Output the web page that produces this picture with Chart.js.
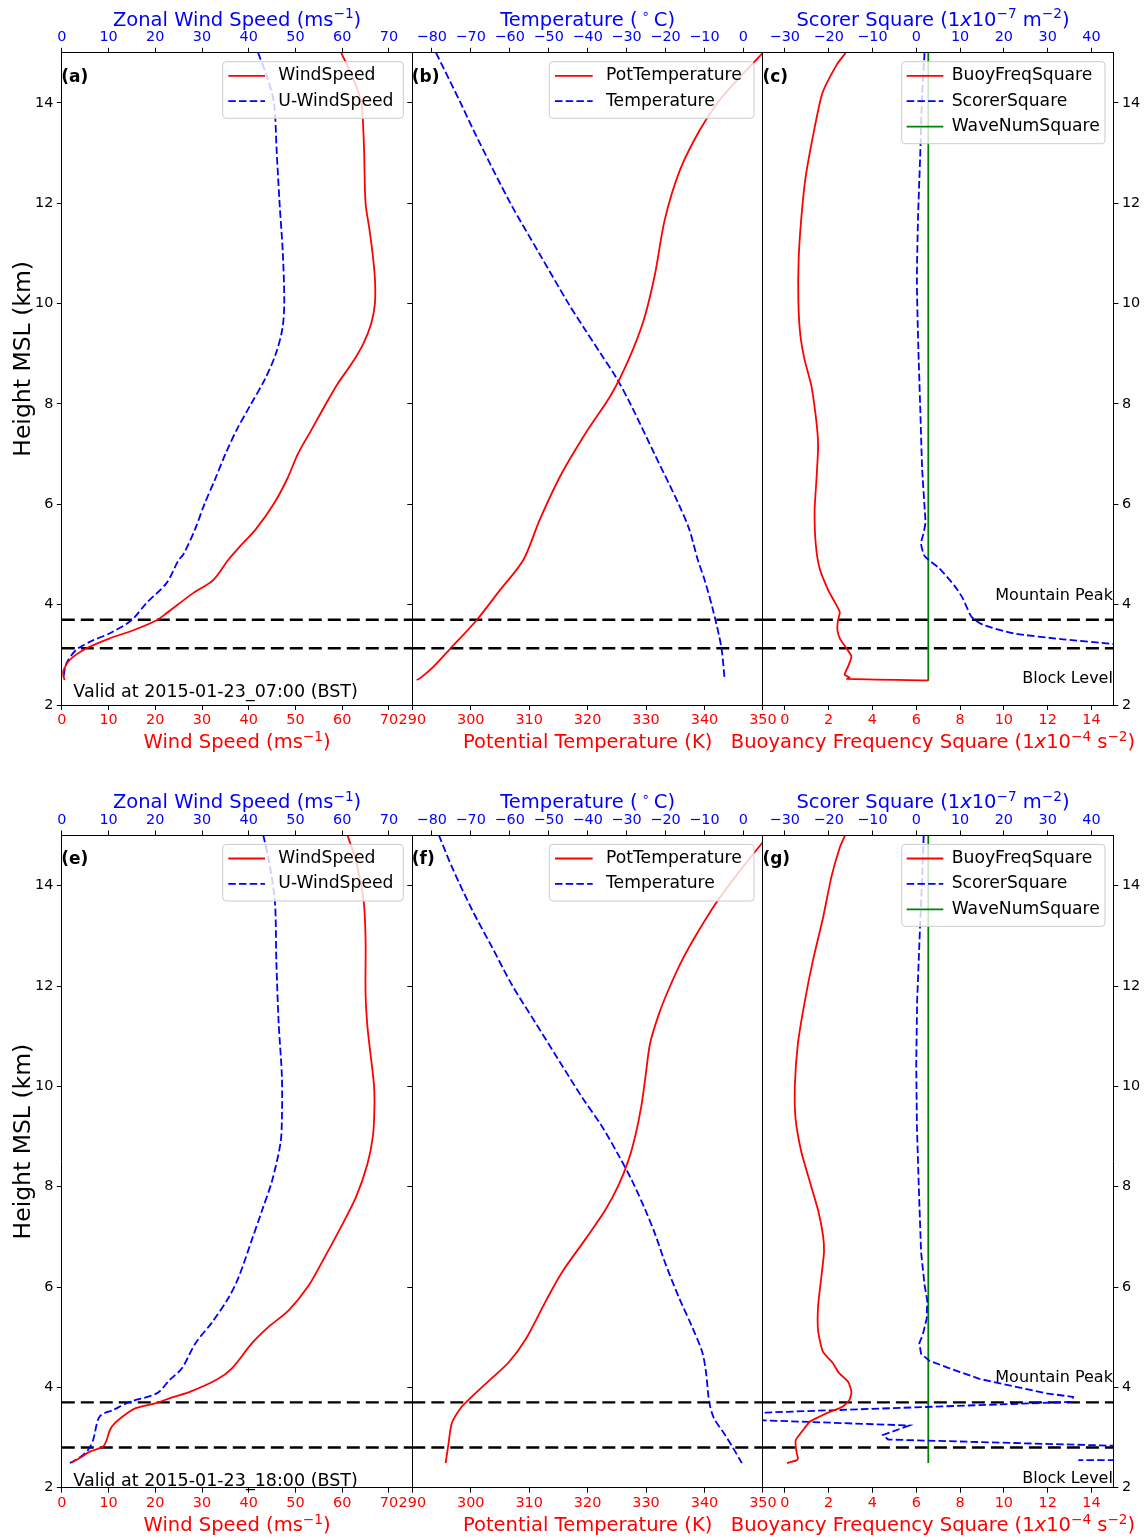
<!DOCTYPE html>
<html><head><meta charset="utf-8">
<script src="https://cdn.jsdelivr.net/npm/chart.js@4/dist/chart.umd.min.js"></script>
<style>
html,body{margin:0;padding:0;background:#fff;}
#wrap{position:relative;width:1148px;height:1538px;overflow:hidden;background:#fff;}
#wrap canvas{position:absolute;left:0;top:0;}
</style></head><body>
<div id="wrap">
<canvas id="pa" width="1148" height="1538"></canvas>
<canvas id="pb" width="1148" height="1538"></canvas>
<canvas id="pc" width="1148" height="1538"></canvas>
<canvas id="pe" width="1148" height="1538"></canvas>
<canvas id="pf" width="1148" height="1538"></canvas>
<canvas id="pg" width="1148" height="1538"></canvas>
</div>
<script>
// ---------------- DATA ----------------
const windTicks = [0,10,20,30,40,50,60,70];
const potTempTicks = [290,300,310,320,330,340,350];
const tempTicks = [-80,-70,-60,-50,-40,-30,-20,-10,0];
const buoyTicks = [0,2,4,6,8,10,12,14];
const scorerTicks = [-30,-20,-10,0,10,20,30,40];
const heightTicks = [2,4,6,8,10,12,14];

const validTimes = ['2015-01-23_07:00', '2015-01-23_18:00'];
const mountainPeak = [3.7, 3.7];
const blockLevel = [3.13, 2.8];
const waveNumSquare = [6.55, 6.55];
const waveNumBottom = [2.49, 2.49];

// (a) 07:00 wind
const a_windH = [15.0,14.5,14.0,13.5,13.0,12.0,11.5,11.0,10.5,10.0,9.6,9.2,8.8,8.4,8.0,7.5,7.0,6.5,6.0,5.5,5.2,4.89,4.49,4.23,3.83,3.69,3.49,3.33,3.13,2.9,2.7,2.6,2.5];
const a_windV = [59.8,62.3,64.1,64.5,64.7,65.0,65.8,66.5,67.0,67.0,66.2,64.5,62.0,59.0,56.5,53.5,50.5,48.2,45.3,41.5,38.5,35.6,32.4,28.1,22.4,20.3,15.3,10.3,5.3,1.7,0.4,0.3,0.6];
const a_uwindH = [15.0,14.5,14.0,13.0,12.0,11.0,10.0,9.5,9.0,8.5,8.0,7.5,7.0,6.5,6.0,5.5,5.0,4.89,4.43,4.03,3.69,3.43,3.29,3.10,2.83,2.53];
const a_uwindV = [42.0,44.0,45.4,46.0,46.6,47.3,47.6,47.2,45.8,43.5,40.5,37.5,35.0,32.8,30.5,28.5,26.0,25.0,22.4,18.1,14.9,10.3,6.7,3.1,1.0,0.3];
// (b) 07:00 potential temperature / temperature
const b_potH = [15.0,14.62,14.06,13.46,12.66,11.67,10.57,9.67,8.88,8.18,7.48,6.58,5.69,4.89,4.29,3.69,3.11,2.76,2.53,2.50];
const b_potV = [350,346.9,342.6,339.2,335.8,333.2,331.5,329.6,327.0,324.0,320.0,315.4,311.8,309.0,305.0,301.0,296.4,293.6,291.3,290.75];
const b_tempH = [15.0,14.0,13.33,12.0,11.0,10.0,9.5,9.0,8.52,8.0,7.0,6.0,5.5,4.89,4.5,3.89,3.16,2.5];
const b_tempV = [-78.9,-72.6,-68.5,-59.8,-52.4,-44.9,-40.8,-36.6,-32.6,-29.0,-22.8,-16.6,-13.9,-11.7,-10.0,-7.8,-5.7,-4.8];
// (c) 07:00 buoyancy / scorer
const c_buoyH = [15.0,14.77,14.19,13.35,12.52,11.69,10.86,10.03,9.37,8.87,8.37,7.54,7.13,6.46,5.88,5.22,4.72,4.30,4.05,3.85,3.69,3.50,3.33,3.13,2.97,2.77,2.60,2.55,2.52,2.49];
const c_buoyV = [2.78,2.38,1.71,1.29,0.95,0.75,0.63,0.62,0.71,0.91,1.21,1.47,1.52,1.44,1.36,1.41,1.59,1.97,2.28,2.51,2.43,2.40,2.51,2.81,3.04,2.89,2.73,2.96,2.84,6.57];
const c_scorerH = [15.0,14.19,12.94,11.69,10.45,9.2,7.96,6.71,5.88,5.63,5.40,5.22,4.97,4.72,4.38,4.13,3.76,3.60,3.43,3.31,3.22,3.10];
const c_scorerV = [1.9,1.35,0.9,0.4,0.15,0.45,0.9,1.35,1.95,2.1,1.6,1.1,1.9,5.3,8.7,10.6,12.6,15.2,22.1,33.5,44.9,70];
// (e) 18:00 wind
const e_windH = [15.01,14.51,13.68,12.93,11.85,11.19,10.61,10.03,9.61,9.03,8.45,7.78,7.12,6.62,6.04,5.54,5.21,4.88,4.38,4.15,3.91,3.80,3.69,3.59,3.48,3.30,3.15,2.95,2.82,2.72,2.60,2.50];
const e_windV = [61.1,62.9,64.6,65.0,65.0,65.4,66.1,66.8,66.9,66.6,65.4,62.9,59.3,56.4,52.9,48.6,44.3,40.7,36.4,33.1,27.4,23.6,20.3,16.0,13.9,11.5,10.3,9.6,8.85,6.0,4.0,2.07];
const e_uwindH = [15.01,14.51,13.68,12.52,11.27,10.19,9.36,8.87,8.12,7.54,6.95,6.21,5.79,5.29,4.88,4.38,4.15,3.88,3.71,3.55,3.42,2.95,2.75,2.60,2.49];
const e_uwindV = [43.1,44.3,45.6,45.9,46.4,47.1,47.1,46.8,45.0,42.9,40.7,37.9,35.7,32.1,28.6,25.7,23.1,20.3,14.6,11.0,8.1,6.7,5.6,3.8,1.7];
// (f) 18:00 potential temperature / temperature
const f_potH = [15.0,14.84,14.18,13.64,13.1,12.52,11.94,11.44,10.86,10.19,9.61,9.03,8.53,8.03,7.53,6.95,6.29,5.71,4.96,4.50,4.13,3.76,3.59,3.30,2.88,2.49];
const f_potV = [351.0,349.8,345.3,341.9,339.0,336.2,333.9,332.2,330.7,329.9,329.2,328.2,327.0,325.3,323.0,319.6,315.6,312.8,309.4,306.5,303.1,299.7,298.3,296.8,296.2,295.7];
const f_tempH = [15.01,14.35,13.51,12.77,12.02,11.27,10.52,9.78,9.2,8.62,8.12,7.54,7.04,6.46,5.80,5.21,4.71,4.30,3.72,3.39,3.05,2.81,2.49];
const f_tempV = [-78.2,-74.7,-69.6,-64.5,-59.4,-53.4,-47.4,-41.4,-36.3,-32.0,-28.6,-25.2,-22.6,-20.0,-16.6,-13.2,-10.6,-9.6,-8.8,-7.6,-4.7,-2.8,-0.4];
// (g) 18:00 buoyancy / scorer
const g_buoyH = [15.0,14.76,14.18,13.35,12.52,11.69,10.86,10.03,9.36,8.70,8.12,7.53,7.04,6.70,6.21,5.62,5.13,4.71,4.48,4.30,4.11,3.91,3.75,3.62,3.51,3.42,3.32,3.13,2.95,2.82,2.68,2.59,2.55,2.49];
const g_buoyV = [2.75,2.51,2.13,1.74,1.29,0.91,0.60,0.46,0.49,0.75,1.13,1.52,1.74,1.79,1.67,1.52,1.52,1.74,2.2,2.45,2.89,3.04,2.95,2.65,2.05,1.6,1.15,0.8,0.5,0.5,0.55,0.6,0.55,0.1];
const g_scorerH = [15.0,14.18,12.93,11.69,10.44,9.2,7.95,6.7,6.04,5.74,5.38,5.05,4.88,4.67,4.53,4.38,4.17,4.01,3.88,3.81,3.71,3.42,3.24,3.05,2.96,2.80,2.58,2.55];
const g_scorerV = [1.7,1.35,0.75,0.2,0.0,0.15,0.6,1.1,1.9,2.5,2.4,1.5,0.7,1.1,3.0,7.6,14.4,22.8,29.7,35.8,35.4,-60,-1.6,-7.6,-6.4,60,300,37];

// ---------------- LAYOUT / STYLE ----------------
const FONT = "'DejaVu Sans'";
Chart.defaults.font.family = "'DejaVu Sans', sans-serif";
const W = 1148, H = 1538;
const WL = 50, WR = 30, HT = 45, HB = 45;
const colLeft = [61.8, 412.3, 762.9], colRight = [412.3, 762.9, 1113.4];
const rowTop = [52.8, 835.5], rowBottom = [705, 1487.7];
const RED = '#ff0000', BLUE = '#0000ff', GREEN = '#008000';
const windRange=[0,75], potTempRange=[290,350], tempRange=[-85,5], buoyRange=[-1,15], scorerRange=[-35,45], heightRange=[2,15];

const fmt = v => (v < 0 ? '\u2212' + Math.abs(v) : String(v));

function xScale(pos, range, ticks, color) {
  return {
    type:'linear', position:pos, min:range[0], max:range[1],
    afterBuildTicks: s => { s.ticks = ticks.map(v => ({value:v})); },
    afterFit: s => { s.height = pos === 'top' ? HT : HB; },
    ticks:{color, font:{size:14.4, family:FONT}, padding:2, autoSkip:false, maxRotation:0, minRotation:0, callback: v => fmt(v)},
    grid:{display:true, drawOnChartArea:false, drawTicks:true, tickLength:5, tickColor:'#000', tickWidth:1, color:'#000'},
    border:{display:true, color:'#000', width:1}
  };
}
function yScale(pos, showTicks, showLabels) {
  return {
    type:'linear', position:pos, min:heightRange[0], max:heightRange[1],
    afterBuildTicks: s => { s.ticks = heightTicks.map(v => ({value:v})); },
    afterFit: s => { s.width = pos === 'left' ? WL : WR; },
    ticks:{display:showLabels, color:'#000', font:{size:14.4, family:FONT}, padding:3.5, autoSkip:false, callback: v => fmt(v)},
    grid:{display:true, drawOnChartArea:false, drawTicks:showTicks, tickLength:5, tickColor:'#000', tickWidth:1, color:'#000'},
    border:{display:true, color:'#000', width:1}
  };
}
function series(hArr, vArr, axis, color, dash, tension) {
  return {
    data: hArr.map((h, i) => ({x: vArr[i], y: h})),
    xAxisID: axis, yAxisID: 'y', showLine: true, pointRadius: 0,
    borderColor: color, borderWidth: 1.8, borderDash: dash || [], tension: tension, fill: false
  };
}
function level(h, range) {
  return {
    data: [{x: range[0], y: h}, {x: range[1], y: h}],
    xAxisID: 'xb', yAxisID: 'y', showLine: true, pointRadius: 0,
    borderColor: '#000', borderWidth: 2.4, borderDash: [13, 6], tension: 0, fill: false
  };
}

function drawRich(ctx, parts, x, y, size, color, align) {
  const segs = []; let total = 0;
  for (const p of parts) {
    const s = p.sup ? size * 0.7 : size;
    const f = (p.it ? 'italic ' : '') + s + 'px ' + FONT;
    ctx.font = f;
    const w = ctx.measureText(p.t).width;
    segs.push({p, f, w}); total += w;
  }
  let cx = align === 'center' ? x - total / 2 : (align === 'right' ? x - total : x);
  ctx.fillStyle = color; ctx.textAlign = 'left'; ctx.textBaseline = 'alphabetic';
  for (const g of segs) {
    ctx.font = g.f;
    ctx.fillText(g.p.t, cx, y - (g.p.sup ? size * 0.38 : 0));
    cx += g.w;
  }
}
function roundRect(ctx, x, y, w, h, r) {
  ctx.beginPath();
  ctx.moveTo(x + r, y); ctx.lineTo(x + w - r, y); ctx.arcTo(x + w, y, x + w, y + r, r);
  ctx.lineTo(x + w, y + h - r); ctx.arcTo(x + w, y + h, x + w - r, y + h, r);
  ctx.lineTo(x + r, y + h); ctx.arcTo(x, y + h, x, y + h - r, r);
  ctx.lineTo(x, y + r); ctx.arcTo(x, y, x + r, y, r); ctx.closePath();
}

function textPlugin(spec) {
  return {
    id: 'txt',
    afterDraw(chart) {
      const ctx = chart.ctx, ca = chart.chartArea, ys = chart.scales.y;
      ctx.save();
      const cx = spec.titleCx != null ? spec.titleCx : (ca.left + ca.right) / 2;
      drawRich(ctx, spec.xbTitle, cx, ca.bottom + 43.3, 19.5, RED, 'center');
      drawRich(ctx, spec.xtTitle, cx, ca.top - 27.1, 19.5, BLUE, 'center');
      if (spec.yTitle) {
        ctx.save();
        ctx.translate(30, (ca.top + ca.bottom) / 2 - 20);
        ctx.rotate(-Math.PI / 2);
        drawRich(ctx, [{t: spec.yTitle}], 0, 0, 23.5, '#000', 'center');
        ctx.restore();
      }
      // panel label
      ctx.font = 'bold 17px ' + FONT; ctx.fillStyle = '#000'; ctx.textAlign = 'left'; ctx.textBaseline = 'alphabetic';
      ctx.fillText(spec.label, ca.left - 0.5, ca.top + 28.7);
      if (spec.valid) {
        ctx.font = '17.5px ' + FONT;
        ctx.fillText('Valid at ' + spec.valid + ' (BST)', ca.left + 11.5, ys.getPixelForValue(spec.validH));
      }
      if (spec.peakH != null) {
        ctx.font = '16px ' + FONT; ctx.textAlign = 'right';
        ctx.fillText('Mountain Peak', ca.right - 0.5, ys.getPixelForValue(spec.peakH));
        ctx.fillText('Block Level', ca.right - 0.5, ys.getPixelForValue(spec.blockH));
      }
      // legend
      const lg = spec.legend, n = lg.items.length;
      const bt = ca.top + 8.9, bh = 56.6 + (n - 2) * 25.4;
      roundRect(ctx, ca.right - lg.boxL, bt, lg.boxL - lg.boxR, bh, 3.5);
      ctx.fillStyle = 'rgba(255,255,255,0.8)'; ctx.fill();
      ctx.strokeStyle = '#cccccc'; ctx.lineWidth = 1; ctx.stroke();
      lg.items.forEach((it, i) => {
        const y = ca.top + 23 + i * 25.4;
        ctx.beginPath(); ctx.strokeStyle = it.color; ctx.lineWidth = 1.8;
        ctx.setLineDash(it.dash || []);
        ctx.moveTo(ca.right - lg.hL, y); ctx.lineTo(ca.right - lg.hR, y); ctx.stroke();
        ctx.setLineDash([]);
        ctx.font = '17.2px ' + FONT; ctx.fillStyle = '#000'; ctx.textAlign = 'left'; ctx.textBaseline = 'middle';
        ctx.fillText(it.label, ca.right - lg.tx, y);
      });
      ctx.restore();
    }
  };
}

function makeChart(id, col, row, spec) {
  const L = colLeft[col], R = colRight[col], T = rowTop[row], B = rowBottom[row];
  return new Chart(document.getElementById(id), {
    type: 'scatter',
    data: {datasets: spec.datasets},
    options: {
      responsive: false, animation: false, devicePixelRatio: 1, events: [],
      layout: {padding: {left: L - WL, right: W - R - WR, top: T - HT, bottom: H - B - HB}},
      plugins: {legend: {display: false}, tooltip: {enabled: false}, title: {display: false}},
      scales: {
        xb: xScale('bottom', spec.xbRange, spec.xbTicks, RED),
        xt: xScale('top', spec.xtRange, spec.xtTicks, BLUE),
        y: yScale('left', spec.yl[0], spec.yl[1]),
        y2: yScale('right', spec.yr[0], spec.yr[1])
      }
    },
    plugins: [textPlugin(spec)]
  });
}

const DASH = [7.5, 3.2];
const windB = [{t:'Wind Speed (ms'}, {t:'\u22121', sup:1}, {t:')'}];
const windT = [{t:'Zonal Wind Speed (ms'}, {t:'\u22121', sup:1}, {t:')'}];
const potT = [{t:'Potential Temperature (K)'}];
const tempT = [{t:'Temperature (\u2009'}, {t:'\u2218', sup:1}, {t:'\u2009C)'}];
const buoyT = [{t:'Buoyancy Frequency Square (1'}, {t:'x', it:1}, {t:'10'}, {t:'\u22124', sup:1}, {t:' s'}, {t:'\u22122', sup:1}, {t:')'}];
const scorerT = [{t:'Scorer Square (1'}, {t:'x', it:1}, {t:'10'}, {t:'\u22127', sup:1}, {t:' m'}, {t:'\u22122', sup:1}, {t:')'}];

const legWind = {boxL:189.6, boxR:9, hL:184, hR:147.3, tx:134,
  items:[{label:'WindSpeed', color:RED}, {label:'U-WindSpeed', color:BLUE, dash:DASH}]};
const legTemp = {boxL:213.6, boxR:8.9, hL:207.9, hR:170.2, tx:156.9,
  items:[{label:'PotTemperature', color:RED}, {label:'Temperature', color:BLUE, dash:DASH}]};
const legBuoy = {boxL:211.7, boxR:8.4, hL:206.7, hR:170.1, tx:161.7,
  items:[{label:'BuoyFreqSquare', color:RED}, {label:'ScorerSquare', color:BLUE, dash:DASH}, {label:'WaveNumSquare', color:GREEN}]};

const rows = [
  {wH:a_windH, wV:a_windV, uH:a_uwindH, uV:a_uwindV, pH:b_potH, pV:b_potV, tH:b_tempH, tV:b_tempV,
   bH:c_buoyH, bV:c_buoyV, sH:c_scorerH, sV:c_scorerV, ids:['pa','pb','pc'], labels:['(a)','(b)','(c)'],
   validH:2.166, blockH:2.43, sTension:0.2},
  {wH:e_windH, wV:e_windV, uH:e_uwindH, uV:e_uwindV, pH:f_potH, pV:f_potV, tH:f_tempH, tV:f_tempV,
   bH:g_buoyH, bV:g_buoyV, sH:g_scorerH, sV:g_scorerV, ids:['pe','pf','pg'], labels:['(e)','(f)','(g)'],
   validH:2.03, blockH:2.10, sTension:0}
];

rows.forEach((r, row) => {
  makeChart(r.ids[0], 0, row, {
    datasets: [series(r.wH, r.wV, 'xb', RED, null, 0.3), series(r.uH, r.uV, 'xt', BLUE, DASH, 0.3),
               level(mountainPeak[row], windRange), level(blockLevel[row], windRange)],
    xbRange: windRange, xbTicks: windTicks, xtRange: windRange, xtTicks: windTicks,
    yl: [true, true], yr: [false, false],
    xbTitle: windB, xtTitle: windT, yTitle: 'Height MSL (km)',
    label: r.labels[0], valid: validTimes[row], validH: r.validH, legend: legWind
  });
  makeChart(r.ids[1], 1, row, {
    datasets: [series(r.pH, r.pV, 'xb', RED, null, 0.3), series(r.tH, r.tV, 'xt', BLUE, DASH, 0.3),
               level(mountainPeak[row], potTempRange), level(blockLevel[row], potTempRange)],
    xbRange: potTempRange, xbTicks: potTempTicks, xtRange: tempRange, xtTicks: tempTicks,
    yl: [true, false], yr: [false, false],
    xbTitle: potT, xtTitle: tempT, label: r.labels[1], legend: legTemp
  });
  makeChart(r.ids[2], 2, row, {
    datasets: [series(r.bH, r.bV, 'xb', RED, null, 0.2), series(r.sH, r.sV, 'xt', BLUE, DASH, r.sTension),
               series(waveNumBottom.concat([heightRange[1]]).slice(1), waveNumSquare, 'xb', GREEN, null, 0),
               level(mountainPeak[row], buoyRange), level(blockLevel[row], buoyRange)],
    xbRange: buoyRange, xbTicks: buoyTicks, xtRange: scorerRange, xtTicks: scorerTicks,
    yl: [false, false], yr: [true, true],
    xbTitle: buoyT, xtTitle: scorerT, titleCx: 933, label: r.labels[2], legend: legBuoy,
    peakH: 4.1, blockH: r.blockH
  });
});
</script>
</body></html>
